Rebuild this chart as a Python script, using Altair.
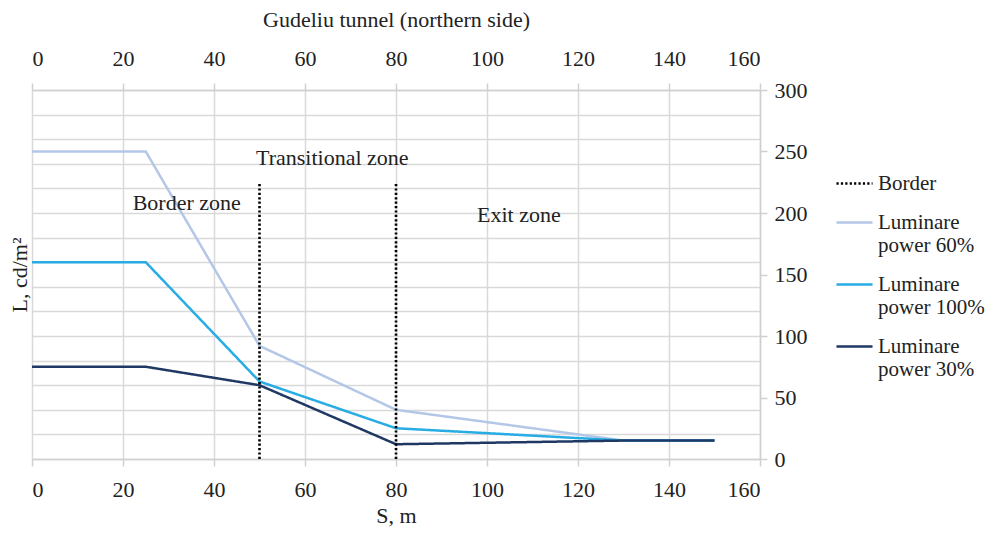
import altair as alt
import pandas as pd

FONT = "Liberation Serif"

series_names = ["Border", "Luminare power 60%", "Luminare power 100%", "Luminare power 30%"]
series_colors = ["#000000", "#b4c7e7", "#27ace3", "#203864"]
series_dash = [[2.2, 2.2], [1, 0], [1, 0], [1, 0]]

x_pts = [0, 25, 50, 80, 130, 150]
y_60 = [250, 250, 92, 40, 15, 15]
y_100 = [160, 160, 63, 25, 15, 15]
y_30 = [75, 75, 60, 12, 15, 15]

border_x = [50, 80]
border_top = 225

zone_labels = ["Border zone", "Transitional zone", "Exit zone"]
zone_x = [34, 66, 107]
zone_y = [208, 245, 198]

rows = []
for name, ys in [("Luminare power 60%", y_60), ("Luminare power 100%", y_100), ("Luminare power 30%", y_30)]:
    for i, (xv, yv) in enumerate(zip(x_pts, ys)):
        rows.append({"series": name, "S": xv, "L": yv, "order": i})
lines_df = pd.DataFrame(rows)
border_df = pd.DataFrame({"series": ["Border"] * len(border_x), "S": border_x, "L0": [0] * len(border_x), "L1": [border_top] * len(border_x)})
zones_df = pd.DataFrame({"label": zone_labels, "S": zone_x, "L": zone_y})

xscale = alt.Scale(domain=[0, 160], nice=False)
yscale = alt.Scale(domain=[0, 300], nice=False)
color_scale = alt.Scale(domain=series_names, range=series_colors)
dash_scale = alt.Scale(domain=series_names, range=series_dash)

legend = alt.Legend(
    title=None, orient="none", legendX=803, legendY=74,
    symbolType="stroke", symbolSize=1300, symbolStrokeWidth=2.5,
    labelFont=FONT, labelFontSize=21, labelColor="#222222", labelLimit=300,
    labelExpr="datum.label == 'Border' ? datum.label : ['Luminare', substring(datum.label, 9)]",
    rowPadding=9,
)

grid_vals_x = list(range(0, 161, 20))
grid_vals_y = list(range(0, 301, 20))
right_vals_y = list(range(0, 301, 50))

lines = alt.Chart(lines_df).mark_line(strokeWidth=2.5).encode(
    x=alt.X("S:Q", scale=xscale, axis=alt.Axis(
        orient="bottom", values=grid_vals_x, title="S, m", grid=True,
        labelPadding=13, titlePadding=5, tickSize=7)),
    y=alt.Y("L:Q", scale=yscale, axis=alt.Axis(
        orient="left", values=grid_vals_y, title="L, cd/m²", grid=True,
        labels=False, ticks=False, domain=False, titlePadding=1)),
    color=alt.Color("series:N", scale=color_scale, legend=legend),
    strokeDash=alt.StrokeDash("series:N", scale=dash_scale, legend=legend),
    order="order:Q",
)

borders = alt.Chart(border_df).mark_rule(strokeWidth=2.6).encode(
    x=alt.X("S:Q", scale=xscale, axis=alt.Axis(
        orient="top", values=grid_vals_x, title="Gudeliu tunnel (northern side)", grid=False,
        labelPadding=13, titlePadding=16, tickSize=7)),
    y=alt.Y("L0:Q", scale=yscale, axis=alt.Axis(
        orient="right", values=right_vals_y, title=None, grid=False,
        labelPadding=7, tickSize=7)),
    y2="L1:Q",
    color=alt.Color("series:N", scale=color_scale, legend=legend),
    strokeDash=alt.StrokeDash("series:N", scale=dash_scale, legend=legend),
)

zones = alt.Chart(zones_df).mark_text(font=FONT, fontSize=22, color="#222222").encode(
    x=alt.X("S:Q", scale=xscale, axis=None),
    y=alt.Y("L:Q", scale=yscale, axis=None),
    text="label:N",
)

chart = alt.layer(lines, borders, zones).resolve_axis(x="independent", y="independent").properties(
    width=728, height=369, padding={"left": 0, "top": 0, "right": 5, "bottom": 5}
).configure_view(stroke=None).configure_axis(
    labelFont=FONT, titleFont=FONT, labelFontSize=22, titleFontSize=22,
    labelColor="#222222", titleColor="#222222", titleFontWeight="normal",
    gridColor="#d9d9d9", gridWidth=1.5, domainColor="#d0d0d0", domainWidth=1.5,
    tickColor="#d0d0d0", tickWidth=1.5,
)

chart.save("out.html", embed_options={"renderer": "svg", "actions": False})
